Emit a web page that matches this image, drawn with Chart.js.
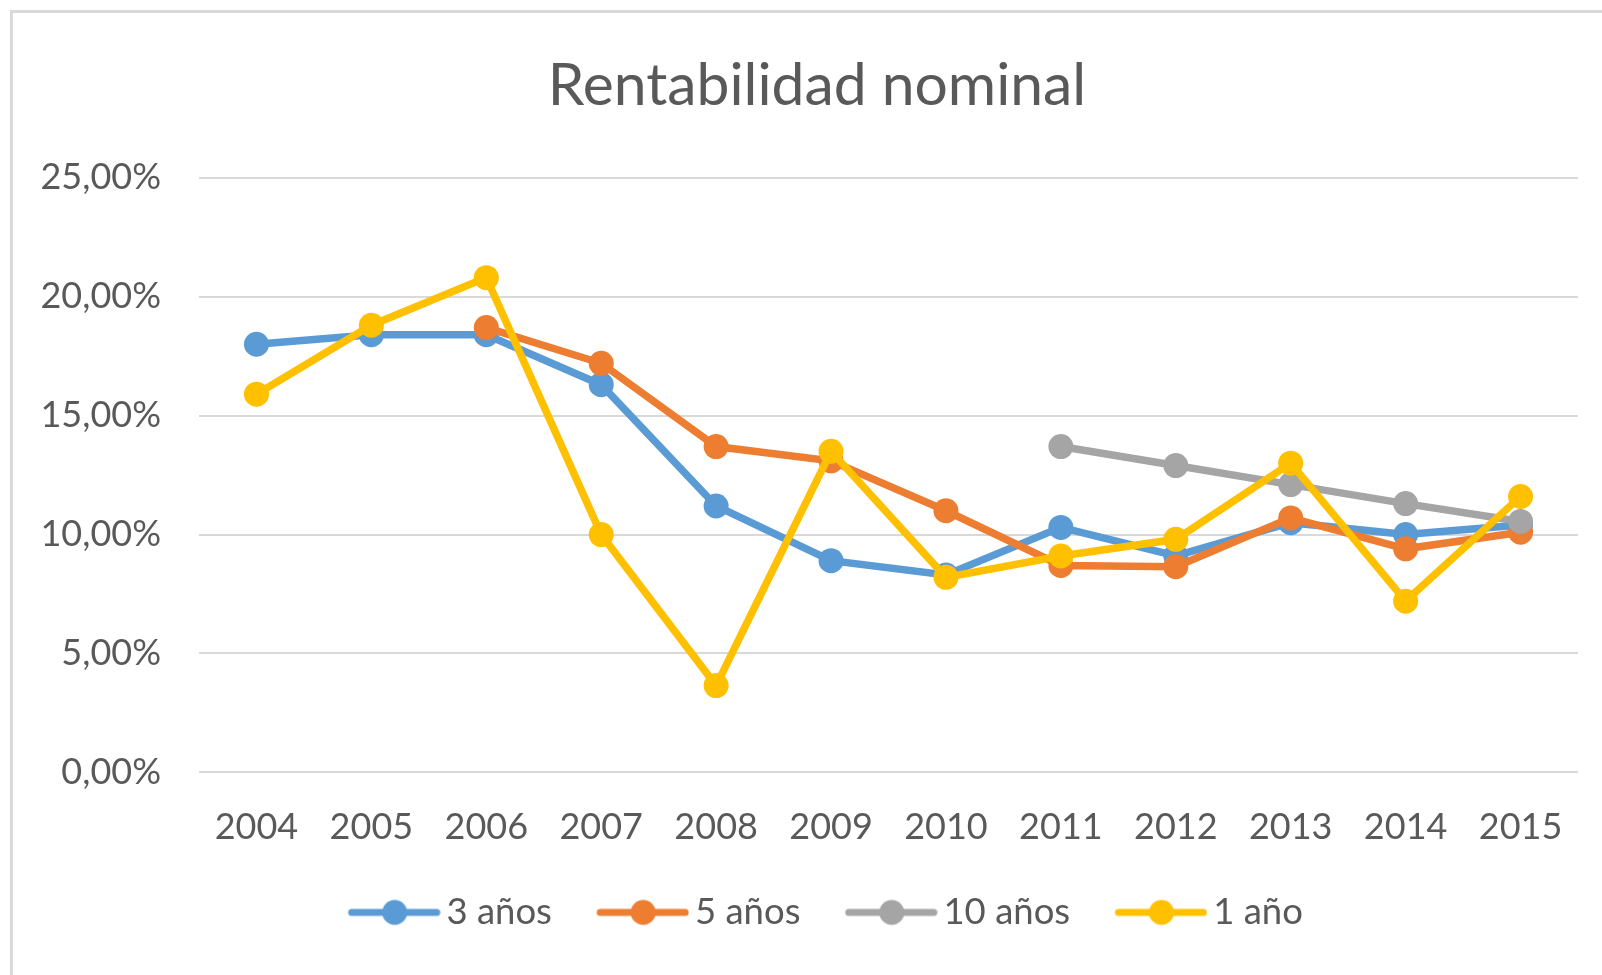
<!DOCTYPE html>
<html>
<head>
<meta charset="utf-8">
<title>Rentabilidad nominal</title>
<script src="https://cdn.jsdelivr.net/npm/chart.js@4.4.0/dist/chart.umd.min.js"></script>
<style>
  html, body { margin: 0; padding: 0; width: 1602px; height: 975px; overflow: hidden; background: #fff; }
  #frame { position: absolute; left: 10px; top: 10px; width: 1640px; height: 1000px; border: 3px solid #d9d9d9; box-sizing: border-box; }
  #wrap { position: absolute; left: 0; top: 0; width: 1625px; height: 962px; }
</style>
</head>
<body>
<div id="frame">
  <div id="wrap"><canvas id="rentabilidad"></canvas></div>
</div>
<script>
// datos (en %)
const years = ['2004', '2005', '2006', '2007', '2008', '2009', '2010', '2011', '2012', '2013', '2014', '2015'];
const tresAnos = [18.0, 18.4, 18.4, 16.3, 11.2, 8.9, 8.3, 10.3, 9.1, 10.5, 10.0, 10.4];
const cincoAnos = [null, null, 18.7, 17.2, 13.7, 13.1, 11.0, 8.7, 8.65, 10.7, 9.4, 10.1];
const diezAnos = [null, null, null, null, null, null, null, 13.7, 12.9, 12.1, 11.3, 10.55];
const unAno = [15.9, 18.8, 20.8, 10.0, 3.65, 13.5, 8.2, 9.1, 9.8, 13.0, 7.2, 11.6];
const yTicks = [0, 5, 10, 15, 20, 25];

const textColor = '#595959';
const fontFamily = 'Lato, "Open Sans", sans-serif';

// icono de leyenda: linea con punto (con hueco a la izquierda para centrar como en Excel)
function legendIcon(color) {
    const c = document.createElement('canvas');
    c.width = 122;
    c.height = 28;
    const g = c.getContext('2d');
    g.strokeStyle = color;
    g.lineWidth = 7;
    g.lineCap = 'round';
    g.beginPath();
    g.moveTo(33, 14);
    g.lineTo(118, 14);
    g.stroke();
    g.fillStyle = color;
    g.beginPath();
    g.arc(76, 14, 12.5, 0, Math.PI * 2);
    g.fill();
    return c;
}

function serie(label, data, color, order) {
    return {
        label: label,
        data: data,
        borderColor: color,
        backgroundColor: color,
        pointBackgroundColor: color,
        borderWidth: 7.5,
        pointRadius: 12.5,
        pointBorderWidth: 0,
        pointHoverRadius: 12.5,
        order: order,
        icon: legendIcon(color)
    };
}

const ctx = document.getElementById('rentabilidad');

new Chart(ctx, {
    type: 'line',
    data: {
        labels: years,
        datasets: [
            serie('3 años', tresAnos, '#5b9bd5', 4),
            serie('5 años', cincoAnos, '#ed7d31', 3),
            serie('10 años', diezAnos, '#a5a5a5', 2),
            serie('1 año', unAno, '#ffc000', 1)
        ]
    },
    options: {
        responsive: true,
        maintainAspectRatio: false,
        devicePixelRatio: 1,
        animation: false,
        layout: {
            padding: { left: 28, right: 45, top: 0, bottom: 34.35 }
        },
        scales: {
            x: {
                offset: true,
                grid: { display: false, drawTicks: false },
                border: { display: false },
                ticks: {
                    color: textColor,
                    font: { family: fontFamily, size: 36 },
                    padding: 33.5,
                    maxRotation: 0
                },
                afterFit: function (scale) {
                    scale.height = 94;
                }
            },
            y: {
                min: 0,
                max: 25,
                afterBuildTicks: function (scale) {
                    scale.ticks = yTicks.map(v => ({ value: v }));
                },
                grid: { color: '#d9d9d9', lineWidth: 2, drawTicks: false },
                border: { display: false },
                ticks: {
                    color: textColor,
                    font: { family: fontFamily, size: 36 },
                    padding: 38,
                    callback: function (value) {
                        return value.toFixed(2).replace('.', ',') + '%';
                    }
                },
                afterFit: function (scale) {
                    scale.width = 158;
                }
            },
            // eje vacio a la derecha, solo para dejar margen como en el original
            derecha: {
                type: 'linear',
                position: 'right',
                grid: { display: false, drawTicks: false },
                border: { display: false },
                ticks: { display: false },
                afterFit: function (scale) {
                    scale.width = 15;
                }
            }
        },
        plugins: {
            title: {
                display: true,
                text: 'Rentabilidad nominal',
                color: textColor,
                font: { family: fontFamily, size: 58.8, weight: 'normal' },
                padding: { top: 38, bottom: 56.2 }
            },
            legend: {
                position: 'bottom',
                labels: {
                    color: textColor,
                    font: { family: fontFamily, size: 36.5 },
                    usePointStyle: true,
                    pointStyleWidth: 97,
                    padding: 27.75,
                    sort: (a, b) => a.datasetIndex - b.datasetIndex,
                    generateLabels: function (chart) {
                        const items = Chart.defaults.plugins.legend.labels.generateLabels(chart);
                        items.forEach(item => {
                            item.pointStyle = chart.data.datasets[item.datasetIndex].icon;
                        });
                        return items;
                    }
                }
            },
            tooltip: { enabled: false }
        }
    }
});
</script>
</body>
</html>
